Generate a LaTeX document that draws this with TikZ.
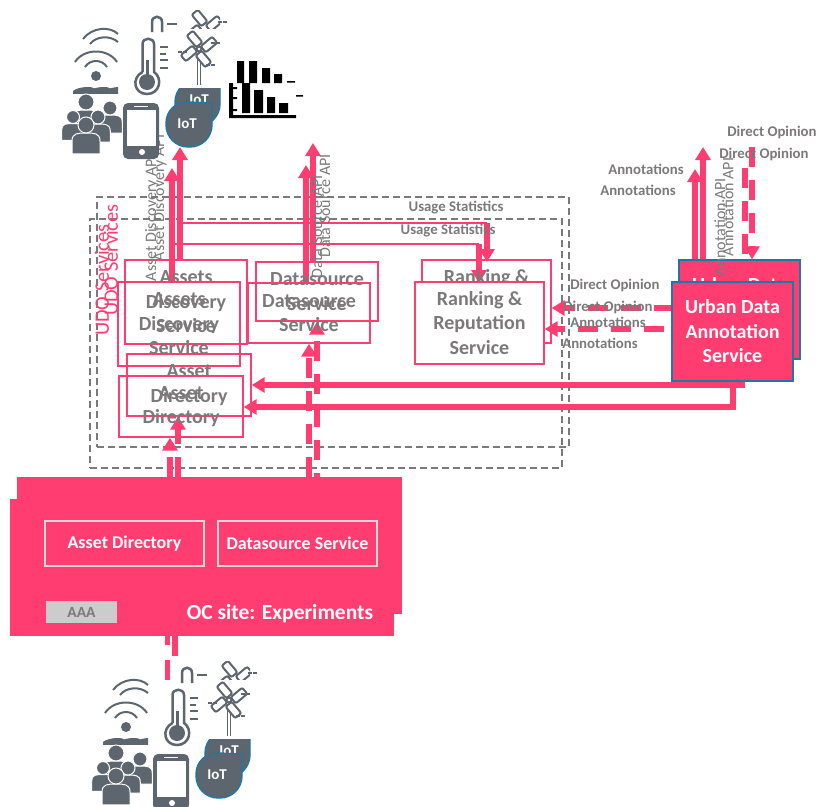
\documentclass[tikz,border=0pt]{standalone}
\usepackage{fontspec}
\setmainfont{Carlito}
\usetikzlibrary{arrows.meta,backgrounds}
\definecolor{udopink}{HTML}{FF3D70}
\definecolor{udogray}{HTML}{7B7979}
\definecolor{icongray}{HTML}{5D666E}
\definecolor{iotblue}{HTML}{1F78A4}
\tikzset{
    svcbox/.style={draw=udopink, line width=1.4pt, inner sep=0pt, align=center,
        text=udogray, font=\bfseries\fontsize{20}{24.5}\selectfont},
    urbanbox/.style={svcbox, draw=iotblue, fill=udopink, text=white},
    ocbox/.style={fill=udopink, inner sep=0pt},
    ocinner/.style={draw=black!15, line width=1.2pt, inner sep=0pt, text=white,
        minimum width=159pt, minimum height=45pt, font=\bfseries\fontsize{18}{20}\selectfont},
    grouplbl/.style={draw=udogray, line width=1.3pt, dash pattern=on 7pt off 4pt, inner sep=0pt},
    lbl/.style={text=udogray, inner sep=0pt, font=\bfseries\fontsize{14.8}{16}\selectfont},
    apilbl/.style={text=udogray, inner sep=0pt, rotate=90, font=\fontsize{16}{17}\selectfont},
    udolbl/.style={text=udopink, inner sep=0pt, rotate=90, font=\fontsize{20.5}{22}\selectfont},
    apiline/.style={draw=udopink, line width=5.5pt, -{Triangle[width=15pt,length=13pt]}},
    apidash/.style={apiline, dash pattern=on 20pt off 13pt},
    thinline/.style={draw=udopink, line width=2.5pt},
    iconline/.style={draw=icongray, line width=2pt},
    sensorset/.pic={
        % wifi
        \draw[iconline] (75,62) .. controls (84,48) and (108,48) .. (117,62);
        \draw[iconline] (85,67) .. controls (90,59) and (102,59) .. (107,67);
        \draw[iconline] (83,39) .. controls (92,27) and (110,26) .. (118,34);
        \draw[iconline] (90,44) .. controls (96,36) and (110,35) .. (118,42);
        \fill[icongray] (96,76) circle (5);
        \begin{scope}
            \clip (73,70) rectangle (118,93);
            \foreach \px/\py in {80/84, 96/84, 112/84}
                \fill[icongray] (\px,\py) ++(-10,12) .. controls ++(0,-12) and ++(20,-12) .. ++(20,0) -- cycle;
        \end{scope}
        % people
        \foreach \px/\py/\pr in {86/102/8, 110/108/7, 73/117/6.5, 98/117/7, 86/125/8} {
            \draw[fill=icongray, draw=white, line width=1pt]
                ({\px-1.75*\pr},{\py+3.6*\pr}) -- ({\px-1.75*\pr},{\py+2*\pr}) .. controls ({\px-1.75*\pr},{\py+\pr}) and ({\px-\pr},{\py+\pr})
                .. (\px,{\py+\pr}) .. controls ({\px+\pr},{\py+\pr}) and ({\px+1.75*\pr},{\py+\pr})
                .. ({\px+1.75*\pr},{\py+2*\pr}) -- ({\px+1.75*\pr},{\py+3.6*\pr}) -- cycle;
            \draw[fill=icongray, draw=white, line width=1pt] (\px,\py) circle (\pr);
        }
        % phone
        \fill[icongray, rounded corners=5pt] (123,103) rectangle (159,159);
        \fill[white] (127,110) rectangle (156,146);
        \fill[white] (142,152) circle (3);
        \draw[white, line width=1pt] (134,106) -- (148,106);
        % thermometer
        \draw[iconline, line width=2.5pt, fill=white] (142.5,72) -- (142.5,44)
            .. controls (142.5,37) and (154,37) .. (154,44) -- (154,72)
            .. controls (163,78) and (160,94) .. (147,94) .. controls (134,94) and (131,78) .. (142.5,72);
        \fill[icongray] (147,82) circle (8);
        \fill[icongray] (146,60) rectangle (149,80);
        \foreach \ty/\tlen in {47/8, 54/6, 60/8, 68/8}
            \draw[iconline] (160,\ty) -- ++(\tlen,0);
        \draw[iconline, line width=2.5pt] (152,32) -- (152,22) .. controls (152,15) and (162,15) .. (162,22) -- (162,32);
        \draw[iconline] (167,24) -- (177,24);
        % turbines
        \draw[iconline, line width=1.5pt] (197.5,53) -- (197.5,85) (200.5,53) -- (200.5,85);
        \foreach \ba in {40,130,220,310}
            \draw[iconline, fill=white, rounded corners=2pt, shift={(199,49)}, rotate=\ba] (3,-1) rectangle (18,7);
        \draw[iconline, fill=white] (199,49) circle (2.5);
        \begin{scope}
            \clip (190,10) rectangle (220,28);
            \foreach \ba in {40,130,220,310}
                \draw[iconline, fill=white, rounded corners=2pt, shift={(204,28)}, rotate=\ba] (3,-1) rectangle (18,7);
        \end{scope}
        \foreach \dx/\dy in {178/52, 211/43, 206/65, 218/22}
            \draw[icongray, line width=1.2pt, dash pattern=on 3.5pt off 1.5pt] (\dx,\dy) -- ++(9,0);
        % iot badges
        \begin{scope}
            \clip (170,88) rectangle (225,135);
            \draw[line width=1.4pt, draw=iotblue, fill=icongray] (220,80) [rounded corners=22pt] -- (220,126) -- (175,126) -- (175,80) [sharp corners] -- cycle;
            \node[text=white, font=\bfseries\fontsize{15}{15}\selectfont] (iotback) at (199,100) {IoT};
        \end{scope}
        \draw[line width=1.4pt, draw=iotblue, fill=icongray] (212,103) [rounded corners=22pt] -- (212,147) -- (166,147) -- (166,101) [sharp corners] -- cycle;
        \node[text=white, font=\bfseries\fontsize{15}{15}\selectfont] (iotfront) at (187,124) {IoT};
    }
}
\begin{document}
\begin{tikzpicture}[x=1pt, y=-1pt]
    \useasboundingbox (0,0) rectangle (818,806);

    % services
    \node[svcbox, minimum width=122pt, minimum height=84pt] (discoverback) at (186,302) {Assets\\Discovery\\Service};
    \node[svcbox, minimum width=122pt, minimum height=84pt] (discoverfront) at (179,324) {Assets\\Discovery\\Service};
    \node[svcbox, minimum width=122pt, minimum height=59pt] (sourceback) at (317,291.5) {Datasource\\Service};
    \node[svcbox, minimum width=122pt, minimum height=60pt] (sourcefront) at (309,313) {Datasource\\Service};
    \node[svcbox, minimum width=124pt, minimum height=62pt] (directoryback) at (189,385) {Asset\\Directory};
    \node[svcbox, minimum width=124pt, minimum height=61pt] (directoryfront) at (181,406.5) {Asset\\Directory};
    \node[svcbox, minimum width=129pt, minimum height=83pt] (rankingback) at (486.5,301.5) {Ranking \&\\Reputation\\Service};
    \node[svcbox, fill=white, minimum width=129pt, minimum height=82pt] (rankingfront) at (479.5,323) {Ranking \&\\Reputation\\Service};

    % urban data
    \node[urbanbox, minimum width=121pt, minimum height=99pt] (urbanback) at (739.5,309.5) {Urban Data\\Annotation\\Service};
    \node[urbanbox, minimum width=121pt, minimum height=99pt] (urbanfront) at (732.5,331.5) {Urban Data\\Annotation\\Service};

    % oc site
    \node[ocbox, minimum width=385pt, minimum height=137pt] (ocback) at (209.5,545.5) {};
    \node[ocbox, minimum width=384pt, minimum height=137pt] (ocfront) at (202,567.5) {};
    \node[ocinner] (ocdirectory) at (124.5,543.5) {Asset Directory};
    \node[ocinner] (ocsource) at (297.5,543.5) {Datasource Service};
    \node[fill=black!20, text=udogray, inner sep=0pt, minimum width=71pt, minimum height=22pt,
        font=\bfseries\fontsize{15.5}{16}\selectfont] (aaa) at (81.5,612) {AAA};
    \node[text=white, inner sep=0pt, font=\bfseries\fontsize{21.5}{23}\selectfont] (ocname) at (280,614) {OC site: Experiments};

    % free ends
    \coordinate (discovertop) at (180,147);
    \coordinate (discovertopb) at (172,168);
    \coordinate (sourcetop) at (313,143);
    \coordinate (sourcetopb) at (306,165);
    \coordinate (annotop) at (703,147);
    \coordinate (annotopb) at (695,169);
    \coordinate (opiniontop) at (752,147);
    \coordinate (opiniontopb) at (745,168);
    \coordinate (lowdash) at (175,658);
    \coordinate (lowdashb) at (167.5,680);

    \begin{scope}[on background layer]
        \node[grouplbl, minimum width=472pt, minimum height=250pt] (udoback) at (333,322) {};
        \node[grouplbl, minimum width=472pt, minimum height=249pt] (udofront) at (326,343.5) {};

        \draw[apiline] (discoverback.north -| discovertop) -- (discovertop);
        \draw[apiline] (discoverfront.north -| discovertopb) -- (discovertopb);
        \draw[apiline] (sourceback.north -| sourcetop) -- (sourcetop);
        \draw[apiline] (sourcefront.north -| sourcetopb) -- (sourcetopb);
        \draw[apiline] (urbanback.north -| annotop) -- (annotop);
        \draw[apiline] (urbanfront.north -| annotopb) -- (annotopb);
        \draw[apidash] (opiniontop) -- (urbanback.north -| opiniontop);
        \draw[apidash] (opiniontopb) -- (urbanfront.north -| opiniontopb);

        \draw[thinline] (discovertop |- 0,223) -- (487,223);
        \draw[thinline] (discovertopb |- 0,244) -- (479,244);
        \draw[apiline] (487,223) -- (487,262);
        \draw[apiline] (479,244) -- (479,283);

        \draw[apiline] (742,359) |- (directoryback.east |- 0,385);
        \draw[apiline] (733,381) |- (directoryfront.east |- 0,407);

        \draw[apidash, dash phase=5pt] (urbanback.east |- 0,308) -- (rankingback.east |- 0,308);
        \draw[apidash, dash phase=26pt] (urbanfront.west |- 0,329) -- (rankingfront.east |- 0,329);

        \draw[apidash] (ocback.north -| 170,0) -- (directoryfront.south -| 170,0);
        \draw[apidash] (ocback.north -| 178,0) -- (directoryback.south -| 178,0);
        \draw[apidash] (ocback.north -| 309,0) -- (sourcefront.south -| 309,0);
        \draw[apidash, dash phase=16pt] (ocback.north -| 317,0) -- (sourceback.south -| 317,0);

        \draw[draw=udopink, line width=5.5pt, dash pattern=on 20pt off 13pt] (ocfront.south -| lowdash) -- (lowdash);
        \draw[draw=udopink, line width=5.5pt, dash pattern=on 9pt off 15pt on 20pt off 5pt] (ocfront.south -| lowdashb) -- (lowdashb);
    \end{scope}

    % labels
    \node[lbl] (usageback) at (456,208) {Usage Statistics};
    \node[lbl] (usagefront) at (448,231) {Usage Statistics};
    \node[lbl] (annoback) at (646,169) {Annotations};
    \node[lbl] (annofront) at (638,190) {Annotations};
    \node[lbl] (opinionback) at (772,132) {Direct Opinion};
    \node[lbl] (opinionfront) at (764,154) {Direct Opinion};
    \node[lbl] (opinionrankback) at (615,285) {Direct Opinion};
    \node[lbl] (opinionrankfront) at (608,307) {Direct Opinion};
    \node[lbl] (annorankback) at (608,322) {Annotations};
    \node[lbl] (annorankfront) at (600,343) {Annotations};
    \node[apilbl] (discoverapiback) at (160,198) {Asset Discovery API};
    \node[apilbl] (discoverapifront) at (152,218) {Asset Discovery API};
    \node[apilbl] (sourceapiback) at (325,206) {Data Source API};
    \node[apilbl] (sourceapifront) at (317,227) {Data Source API};
    \node[apilbl] (annoapiback) at (728,207) {Annotation API};
    \node[apilbl] (annoapifront) at (720,227) {Annotation API};
    \node[udolbl] (udolblback) at (111,260) {UDO Services};
    \node[udolbl] (udolblfront) at (102,280) {UDO Services};

    % charts
    \fill[black] (229,83) rectangle (233,118) (229,115) rectangle (296,118);
    \fill[black] (242,83) rectangle (250,113) (254,90) rectangle (263,113) (267,97) rectangle (275,113) (279,103) rectangle (288,113);
    \fill[black] (233,87) rectangle (237,89) (233,97) rectangle (237,99) (233,109) rectangle (237,111);
    \fill[black] (237,61) rectangle (244,83) (249,61) rectangle (257,83) (262,68) rectangle (270,83) (274,74) rectangle (282,83);
    \fill[black] (287,81) rectangle (295,82.5) (296,95) rectangle (303,96.5);

    % sensors
    \pic (topset) at (0,0) {sensorset};
    \pic (lowset) at (30,651) {sensorset};
\end{tikzpicture}
\end{document}
